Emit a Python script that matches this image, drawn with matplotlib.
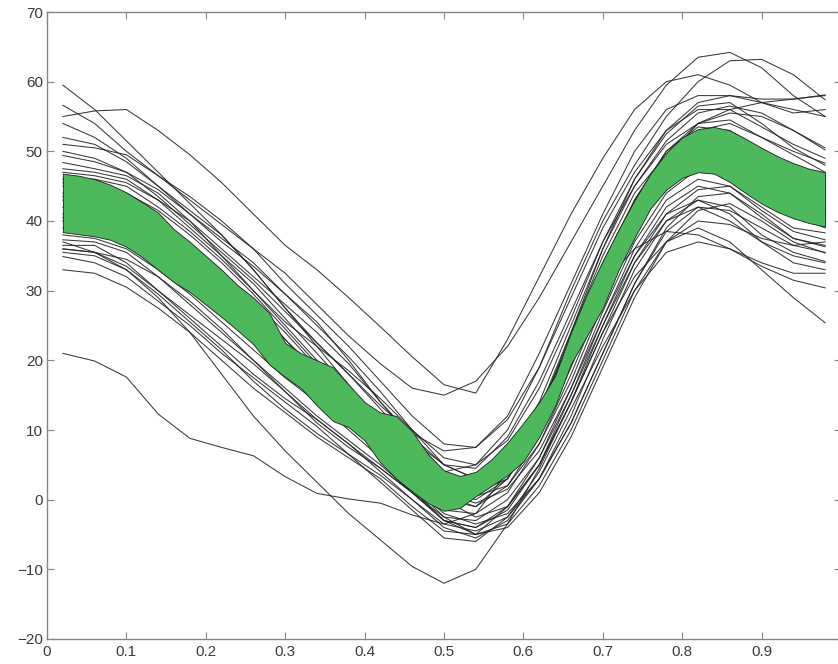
import numpy as np
import matplotlib
matplotlib.use("Agg")
import matplotlib.pyplot as plt

# ------------------------------------------------------------
# data (x = normalised cycle, y = value)
# ------------------------------------------------------------
curve_x = [0.02, 0.06, 0.10, 0.14, 0.18, 0.22, 0.26, 0.30, 0.34, 0.38, 0.42, 0.46, 0.50,
           0.54, 0.58, 0.62, 0.66, 0.70, 0.74, 0.78, 0.82, 0.86, 0.90, 0.94, 0.98]

curves = [
    [59.5, 56, 51.5, 47, 42.5, 38, 33, 27.5, 22, 16.5, 10.5, 4.5, 0.5, -1, 3, 12, 24, 36, 46, 53, 57, 58, 57.5, 57.5, 58],
    [55, 55.8, 56, 53, 49.5, 45.5, 41, 36.5, 33, 29, 24.8, 20.5, 16.5, 15.3, 23, 32, 41, 49, 56, 60, 61, 59.5, 57, 55.5, 56],
    [51, 50.5, 49.5, 46.5, 43, 39.5, 36, 32.5, 28, 23.5, 19.5, 16, 15, 17, 22, 29, 37, 45, 53, 59.5, 63.5, 64.2, 62, 58, 55],
    [47.5, 47, 46, 43, 39, 35, 31, 26, 21, 16, 11, 7, 4, 5, 10, 19, 30, 40, 48, 55, 60, 63, 63.2, 61, 57.4],
    [21, 19.9, 17.6, 12.3, 8.8, 7.5, 6.3, 3.3, 0.9, 0.1, -0.5, -2.2, -3.5, -2, 4, 13, 23, 31, 36, 38.5, 38, 36, 33.5, 31.5, 30.4],
    [37, 35.5, 33, 29, 24, 18, 12, 7, 2.5, -2, -5.8, -9.6, -12, -10, -3.5, 4.5, 14, 24, 32, 37, 39, 37, 33, 29, 25.4],
    [56.6, 54, 50, 46.5, 43.5, 40, 36, 31, 26.5, 22, 17, 12, 8, 7.5, 12, 21, 31, 41, 50, 56, 58, 58, 57, 56, 55],
    [54, 52, 49, 45, 41, 37.5, 34, 29.5, 25, 20.5, 15.5, 10, 5, 3, 6, 14, 25, 36, 45, 51.5, 55.5, 56.5, 55.5, 53, 50.2],
    [52, 51, 48.5, 45, 41.5, 38, 33, 27.5, 22.5, 18, 13, 8, 3.5, 1, 3, 10, 20, 31, 41, 49, 54, 56, 57, 57.5, 58.1],
    [49.4, 48.5, 47, 44.5, 41, 37, 33.5, 29.5, 25.5, 20, 14, 9, 5, 4.5, 9, 17, 27, 37, 45, 51, 54, 54.5, 52, 50, 48.3],
    [48.4, 47.5, 46.5, 44, 40, 35, 30, 25.5, 22, 18.5, 14.5, 10, 6, 5, 8.5, 16, 26, 37, 46, 52.5, 56.5, 57, 54, 50.5, 48],
    [45, 44.5, 43, 40, 36, 32, 28, 23, 18.5, 14.5, 10, 5.5, 1.5, 0, 3, 10, 21, 32, 42, 49, 52, 51.5, 49, 46, 44],
    [43, 42.5, 41.5, 39, 35.5, 31, 26, 20.5, 16, 12.5, 8.5, 4, 0, -1, 2, 9, 19, 30, 40, 47, 50, 49, 46, 43, 41.5],
    [41, 41, 40, 37, 33, 29, 25, 20, 16, 12, 7.5, 3, -1.5, -2, 1, 8, 18, 29, 39, 46, 48.5, 48, 45, 42, 40],
    [44, 43, 41, 38, 35, 31.5, 27.5, 23, 18, 13, 8, 3.5, 0.5, 1, 5, 13, 24, 35, 44, 49.5, 51, 49, 45.5, 43, 42],
    [40, 39.5, 38, 35, 31, 27, 23, 18.5, 14.5, 11, 7, 2, -2.5, -3, 0, 6, 15, 26, 36, 43, 46, 45, 41.5, 38.5, 37.3],
    [37.3, 37, 35.5, 32, 28, 24, 20, 16, 12, 8.5, 5, 1, -3, -4, -1.5, 5, 14, 24, 34, 41, 44.5, 45, 42, 39, 38.3],
    [36.5, 36.5, 34, 30, 26, 22, 18, 14.5, 11.5, 8, 4, 0, -3.5, -4.5, -2.5, 3, 11, 21, 31, 39, 43.5, 44, 41, 37.5, 36.3],
    [36, 35.5, 33.5, 30, 26.5, 23, 19.5, 15.5, 11, 7.5, 4.5, 1, -2.5, -5, -4, 1, 9, 19, 29, 37, 41.5, 42.5, 40, 37, 35.4],
    [35.5, 35, 33, 29.5, 25.5, 21.5, 17, 13, 9.5, 6.5, 3.5, 0, -4, -5.5, -3, 3, 12, 23, 33, 40, 43, 42, 38, 35.5, 34.2],
    [34.9, 34, 32, 28.5, 25, 21, 17.5, 14, 10.5, 6.5, 2.5, -1.5, -5.5, -6, -2.5, 4, 13, 22, 30, 35.5, 37, 36, 34, 32.5, 32.5],
    [33, 32.5, 30.5, 27.5, 24, 20, 16, 12.5, 9, 6, 3, -1, -4.5, -5, -1, 6, 16, 26, 35, 41, 43, 41, 37, 34, 33],
    [46, 46, 45, 42, 38.5, 34.5, 30, 25, 20, 15, 10.5, 6, 2, 1.5, 5.5, 13, 23, 34, 43, 50, 54, 55.5, 55, 53, 50.5],
    [42, 41.5, 40, 37.5, 34, 30, 26.5, 22, 17, 12.5, 8.5, 4.5, 1, -0.5, 1.5, 7, 16, 27, 37, 44, 47.5, 47.5, 45, 41, 39],
    [39, 38.5, 37.5, 35, 31.5, 28, 24, 19.5, 15.5, 12, 8.5, 4.5, 0, -2.5, -1, 5, 14, 25, 35, 42, 45, 44, 40.5, 37.5, 36.5],
    [45.5, 45, 44, 41.5, 38, 34, 29.5, 24.5, 19.5, 15.5, 12, 8.5, 5, 3, 4.5, 11, 21, 32, 42, 49, 53, 54, 52, 49.5, 47],
    [38, 37.5, 36, 33, 29.5, 25.5, 21.5, 17.5, 14, 10, 6, 1.5, -3, -4, -1, 5, 15, 25, 34, 40, 42, 40, 37, 35, 34],
    [47, 46.5, 45.5, 43, 40, 36, 32, 28, 24, 19.5, 14, 9, 4, 2, 4, 11, 22, 33, 43, 50, 53.5, 53, 50, 46.5, 44.5],
    [40.5, 40, 38, 34, 30, 26.5, 23, 19, 15, 11, 6.5, 2, -2, -3.5, -2, 3, 11, 21, 31, 38.5, 42, 41.5, 39, 36.5, 35.5],
    [43.5, 43, 42, 39, 35.5, 32, 28.5, 24, 19, 14.5, 10, 6, 2.5, 0.5, 2, 8, 17, 28, 38, 45.5, 49, 48.5, 45.5, 43, 41],
    [50, 49, 47, 43.5, 39.5, 35.5, 31.5, 27, 22.5, 18, 13.5, 9.5, 7, 7.5, 11.5, 19, 29, 39, 47, 53, 56, 56, 53.5, 51, 49],
    [36, 35.5, 34.5, 32, 28.5, 24.5, 20, 15.5, 11.5, 8, 4.5, 1, -3, -5, -3.5, 2, 10, 20, 30, 37, 40, 39.5, 37.5, 36.5, 37],
]

band_x = [0.02, 0.04, 0.06, 0.08, 0.10, 0.12, 0.14, 0.16, 0.18, 0.20, 0.22, 0.24, 0.26,
          0.28, 0.30, 0.32, 0.34, 0.36, 0.38, 0.40, 0.42, 0.44, 0.46, 0.48, 0.50, 0.52,
          0.54, 0.56, 0.58, 0.60, 0.62, 0.64, 0.66, 0.68, 0.70, 0.72, 0.74, 0.76, 0.78,
          0.80, 0.82, 0.84, 0.86, 0.88, 0.90, 0.92, 0.94, 0.96, 0.98]
band_upper = [46.8, 46.5, 46.0, 45.2, 44.1, 42.7, 41.2, 38.8, 37.0, 35.0, 33.0, 30.8, 29.0,
              26.8, 22.5, 21.0, 20.0, 19.0, 16.5, 14.0, 12.5, 12.0, 9.8, 6.5, 4.2, 3.4,
              4.0, 5.8, 8.2, 11.0, 14.0, 17.8, 24.0, 29.5, 34.3, 38.8, 43.0, 46.8, 49.8,
              52.0, 53.2, 53.5, 53.0, 51.8, 50.5, 49.3, 48.3, 47.5, 47.0]
band_lower = [38.4, 38.1, 37.8, 37.3, 36.3, 34.8, 33.0, 31.2, 29.8, 28.0, 26.2, 24.3, 22.3,
              19.4, 17.6, 16.0, 13.5, 11.3, 10.4, 8.5, 5.3, 3.0, 1.2, -0.5, -1.6, -1.2,
              0.5, 2.0, 3.5, 5.5, 9.0, 13.5, 19.5, 23.5, 27.5, 33.0, 37.6, 41.8, 44.5,
              46.2, 47.0, 46.8, 45.6, 44.0, 42.5, 41.3, 40.4, 39.7, 39.2]

x_ticks = [0, 0.1, 0.2, 0.3, 0.4, 0.5, 0.6, 0.7, 0.8, 0.9, 1.0]
# the "1" label falls off the cropped right edge in the original
x_labels = ["0", "0.1", "0.2", "0.3", "0.4", "0.5", "0.6", "0.7", "0.8", "0.9", ""]
y_ticks = [-20, -10, 0, 10, 20, 30, 40, 50, 60, 70]

# ------------------------------------------------------------
BAND_GREEN = "#4db85c"
INK = "#222222"
AXIS_GRAY = "#858585"
LABEL_GRAY = "#3a3a3a"

plt.rcParams["font.family"] = ["Liberation Sans", "DejaVu Sans"]

fig = plt.figure(figsize=(8.38, 6.64), dpi=100)
# the right spine sits just past the image edge, like the cropped original
ax = fig.add_axes([47 / 838, 25 / 664, 794 / 838, 627 / 664])

for ys in curves:
    ax.plot(curve_x, ys, color=INK, lw=0.75, alpha=0.9, zorder=2)

ax.fill_between(band_x, band_lower, band_upper, facecolor=BAND_GREEN,
                edgecolor="#1c1c1c", lw=0.6, zorder=3)

ax.set_xlim(0, 1)
ax.set_ylim(-20, 70)
ax.set_xticks(x_ticks)
ax.set_xticklabels(x_labels)
ax.set_yticks(y_ticks)

for sp in ax.spines.values():
    sp.set_color(AXIS_GRAY)
    sp.set_linewidth(1.0)
ax.tick_params(direction="in", length=5, width=0.8, color=AXIS_GRAY,
               top=True, right=True, labelsize=11, labelcolor=LABEL_GRAY)
ax.tick_params(axis="x", pad=4)
ax.tick_params(axis="y", pad=3)

fig.savefig("out.png", dpi=100)
